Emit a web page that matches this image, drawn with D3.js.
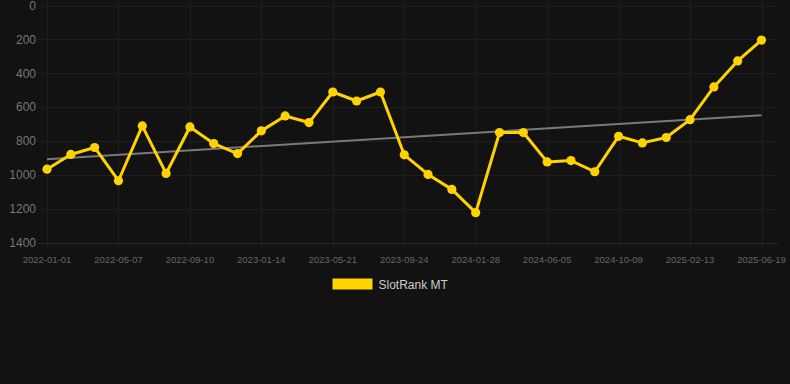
<!DOCTYPE html>
<html>
<head>
<meta charset="utf-8">
<script src="https://cdn.jsdelivr.net/npm/d3@7/dist/d3.min.js"></script>
<style>
  html, body { margin: 0; padding: 0; background: #121212; }
  svg { display: block; }
</style>
</head>
<body>
<svg id="chart" width="790" height="384"></svg>
<script>
// ---- data ----
const tickLabels = ["2022-01-01","2022-05-07","2022-09-10","2023-01-14","2023-05-21","2023-09-24","2024-01-28","2024-06-05","2024-10-09","2025-02-13","2025-06-19"];
const rankValues = [965, 878, 837, 1033, 710, 990, 716, 814, 873, 739,
                    651, 690, 510, 563, 510, 880, 996, 1084, 1221, 749,
                    749, 922, 914, 980, 771, 810, 778, 673, 480, 327, 204];
const trendValues = [906, 647];   // trend line start / end
const yTicks = [0, 200, 400, 600, 800, 1000, 1200, 1400];
const seriesName = "SlotRank MT";

// ---- layout ----
const svg = d3.select("#chart");
const plotL = 47, plotR = 761.5, plotT = 5.5, plotB = 243;
const idx = d3.range(rankValues.length);
const x = d3.scalePoint().domain(idx).range([plotL, plotR]);
const y = d3.scaleLinear().domain([0, 1400]).range([plotT, plotB]);

const gridColor = "#1e1e1e";
// horizontal grid
svg.append("g").selectAll("line").data(yTicks).join("line")
  .attr("x1", 38).attr("x2", 778)
  .attr("y1", d => Math.round(y(d)) + 0.5).attr("y2", d => Math.round(y(d)) + 0.5)
  .attr("stroke", d => d === 1400 ? "#2a2a2a" : gridColor).attr("stroke-width", 1);
// vertical grid (every 3rd category)
const tickIdx = tickLabels.map((_, i) => i * 3);
svg.append("g").selectAll("line").data(tickIdx).join("line")
  .attr("x1", d => Math.round(x(d)) + 0.5).attr("x2", d => Math.round(x(d)) + 0.5)
  .attr("y1", 0).attr("y2", plotB + 7)
  .attr("stroke", gridColor).attr("stroke-width", 1);

// y labels
svg.append("g").selectAll("text").data(yTicks).join("text")
  .attr("x", 36).attr("y", d => y(d))
  .attr("dy", "0.35em").attr("text-anchor", "end")
  .attr("font-family", "Liberation Sans, Arial, sans-serif")
  .attr("font-size", 12).attr("fill", "#777")
  .text(d => d);

// x labels
svg.append("g").selectAll("text").data(tickIdx).join("text")
  .attr("x", d => x(d)).attr("y", 259.5)
  .attr("dy", "0.35em").attr("text-anchor", "middle")
  .attr("font-family", "Liberation Sans, Arial, sans-serif")
  .attr("font-size", 9.5).attr("fill", "#666")
  .text((d, i) => tickLabels[i]);

// trend line
svg.append("line")
  .attr("x1", x(0)).attr("x2", x(idx.length - 1))
  .attr("y1", y(trendValues[0])).attr("y2", y(trendValues[1]))
  .attr("stroke", "#7a7a7a").attr("stroke-width", 2);

// series line
const yellow = "#FFD200";
svg.append("path")
  .datum(rankValues)
  .attr("fill", "none").attr("stroke", yellow).attr("stroke-width", 3)
  .attr("stroke-linejoin", "round")
  .attr("d", d3.line().x((d, i) => x(i)).y(d => y(d)));

svg.append("g").selectAll("circle").data(rankValues).join("circle")
  .attr("cx", (d, i) => x(i)).attr("cy", d => y(d))
  .attr("r", 4.6).attr("fill", yellow);

// legend
svg.append("rect").attr("x", 332.5).attr("y", 278.5).attr("width", 40).attr("height", 11)
  .attr("fill", yellow);
svg.append("text").attr("x", 378.5).attr("y", 284.5).attr("dy", "0.35em")
  .attr("font-family", "Liberation Sans, Arial, sans-serif")
  .attr("font-size", 12).attr("fill", "#cccccc")
  .text(seriesName);
</script>
</body>
</html>
